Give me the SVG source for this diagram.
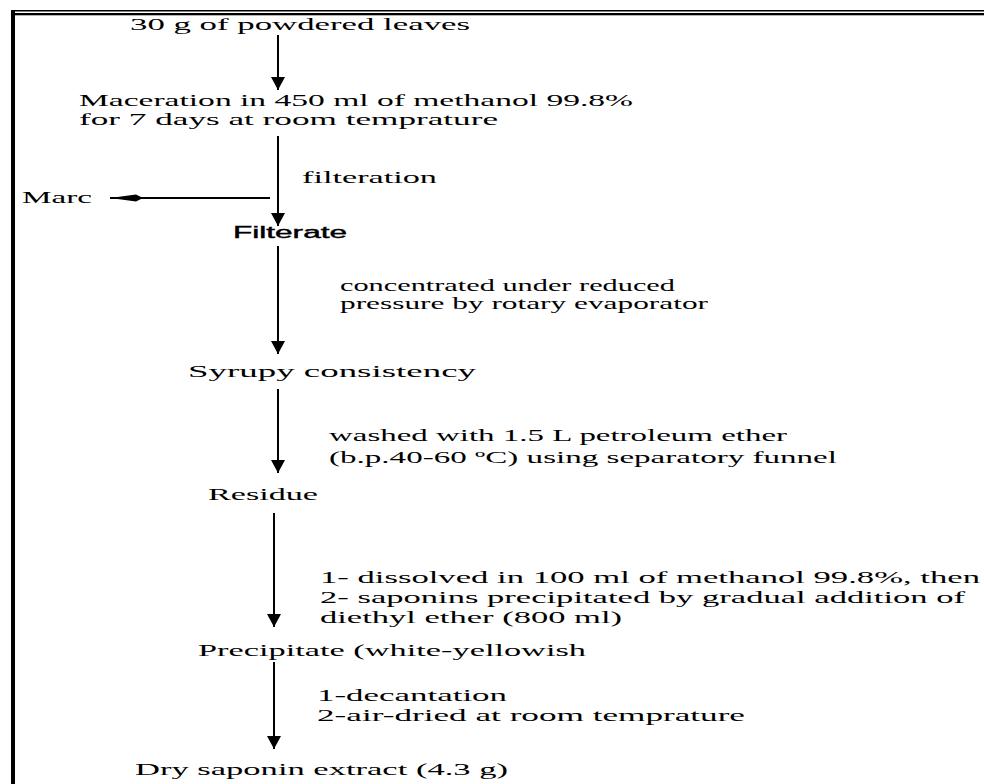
<svg xmlns="http://www.w3.org/2000/svg" width="984" height="784" viewBox="0 0 984 784">
<style>
.t{font-family:"Liberation Serif","Times New Roman",serif;font-size:16.5px;fill:#000}
.s{font-family:"Liberation Sans",Arial,sans-serif;font-size:16px;fill:#000;stroke:#000;stroke-width:0.4}
.c{stroke:#000;stroke-width:2;fill:none}
</style>
<defs>
<marker id="ah" markerUnits="userSpaceOnUse" markerWidth="14" markerHeight="14" refX="13" refY="7" orient="auto"><path d="M0,0 L13,7 L0,14 z" fill="#000"/></marker>
<marker id="st" markerUnits="userSpaceOnUse" markerWidth="37" markerHeight="8" refX="36" refY="3.5" orient="auto"><path d="M36,3.5 L10,0 L3,3.5 L10,7 z" fill="#000"/></marker>
</defs>
<rect width="984" height="784" fill="#fff"/>
<g id="border">
<rect x="11" y="10" width="973" height="1.5" fill="#000"/>
<rect x="11" y="13" width="973" height="2.3" fill="#000"/>
<rect x="11" y="10" width="4" height="774" fill="#000"/>
</g>
<g id="connectors">
<line class="c" x1="278" y1="35" x2="278" y2="90" marker-end="url(#ah)"/>
<line class="c" x1="278" y1="136" x2="278" y2="226" marker-end="url(#ah)"/>
<line class="c" x1="270" y1="198" x2="110" y2="198" marker-end="url(#st)"/>
<line class="c" x1="278" y1="246" x2="278" y2="354" marker-end="url(#ah)"/>
<line class="c" x1="278" y1="389" x2="278" y2="473" marker-end="url(#ah)"/>
<line class="c" x1="274" y1="513" x2="274" y2="627" marker-end="url(#ah)"/>
<line class="c" x1="274" y1="662" x2="274" y2="749" marker-end="url(#ah)"/>
</g>
<g id="n1"><text class="t" x="130" y="30" textLength="340" lengthAdjust="spacingAndGlyphs">30 g of powdered leaves</text></g>
<g id="n2">
<text class="t" x="79" y="106" textLength="554" lengthAdjust="spacingAndGlyphs">Maceration in 450 ml of methanol 99.8%</text>
<text class="t" x="79" y="125" textLength="419" lengthAdjust="spacingAndGlyphs">for 7 days at room temprature</text>
</g>
<g id="l1"><text class="t" x="302" y="183" textLength="135" lengthAdjust="spacingAndGlyphs">filteration</text></g>
<g id="n3"><text class="t" x="22" y="203" textLength="70" lengthAdjust="spacingAndGlyphs">Marc</text></g>
<g id="n4"><text class="s" x="233" y="238" textLength="114" lengthAdjust="spacingAndGlyphs">Filterate</text></g>
<g id="l2">
<text class="t" x="340" y="291" textLength="335" lengthAdjust="spacingAndGlyphs">concentrated under reduced</text>
<text class="t" x="340" y="309" textLength="368" lengthAdjust="spacingAndGlyphs">pressure by rotary evaporator</text>
</g>
<g id="n5"><text class="t" x="188" y="377" textLength="288" lengthAdjust="spacingAndGlyphs">Syrupy consistency</text></g>
<g id="l3">
<text class="t" x="329" y="441" textLength="458" lengthAdjust="spacingAndGlyphs">washed with 1.5 L petroleum ether</text>
<text class="t" x="329" y="463" textLength="508" lengthAdjust="spacingAndGlyphs">(b.p.40-60 ºC) using separatory funnel</text>
</g>
<g id="n6"><text class="t" x="208" y="500" textLength="110" lengthAdjust="spacingAndGlyphs">Residue</text></g>
<g id="l4">
<text class="t" x="320" y="583" textLength="660" lengthAdjust="spacingAndGlyphs">1- dissolved in 100 ml of methanol 99.8%, then</text>
<text class="t" x="320" y="603" textLength="645" lengthAdjust="spacingAndGlyphs">2- saponins precipitated by gradual addition of</text>
<text class="t" x="320" y="623" textLength="302" lengthAdjust="spacingAndGlyphs">diethyl ether (800 ml)</text>
</g>
<g id="n7"><text class="t" x="198" y="656" textLength="388" lengthAdjust="spacingAndGlyphs">Precipitate (white-yellowish</text></g>
<g id="l5">
<text class="t" x="317" y="701" textLength="190" lengthAdjust="spacingAndGlyphs">1-decantation</text>
<text class="t" x="317" y="721" textLength="428" lengthAdjust="spacingAndGlyphs">2-air-dried at room temprature</text>
</g>
<g id="n8"><text class="t" x="135" y="775" textLength="373" lengthAdjust="spacingAndGlyphs">Dry saponin extract (4.3 g)</text></g>
</svg>
